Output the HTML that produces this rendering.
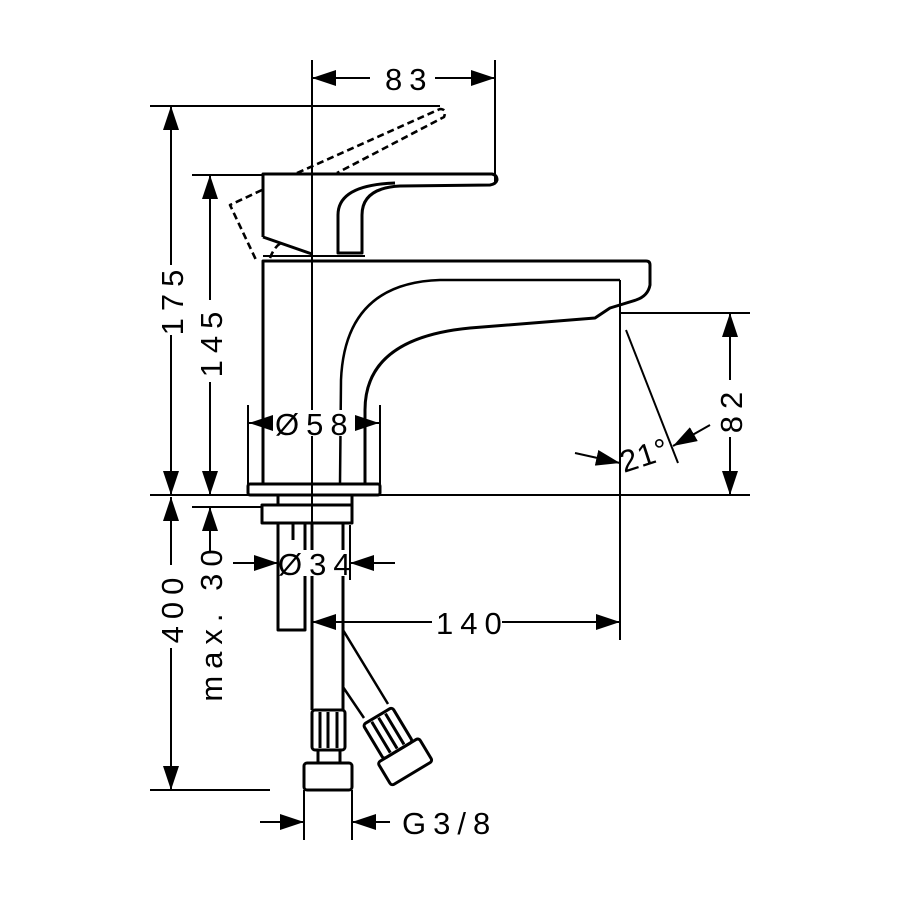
<!DOCTYPE html>
<html><head><meta charset="utf-8"><style>
html,body{margin:0;padding:0;background:#fff}
svg{display:block}
text{font-family:"Liberation Sans",sans-serif;font-size:31px;fill:#000;letter-spacing:7px}
</style></head><body>
<svg width="900" height="900" viewBox="0 0 900 900" xmlns="http://www.w3.org/2000/svg">
<defs>
<marker id="a" viewBox="0 0 24 16" refX="24" refY="8" markerWidth="24" markerHeight="16" markerUnits="userSpaceOnUse" orient="auto"><path d="M0,0 L24,8 L0,16 Z" fill="#000"/></marker>
</defs>
<g stroke="#000" fill="none" stroke-width="2">
<line x1="312" y1="60" x2="312" y2="640"/>
<line x1="495" y1="60" x2="495" y2="182"/>
<line x1="370" y1="78" x2="312" y2="78" marker-end="url(#a)"/>
<line x1="435" y1="78" x2="495" y2="78" marker-end="url(#a)"/>
<line x1="150" y1="106" x2="440" y2="106"/>
<line x1="171" y1="265" x2="171" y2="106" marker-end="url(#a)"/>
<line x1="171" y1="335" x2="171" y2="495" marker-end="url(#a)"/>
<line x1="192" y1="175" x2="262" y2="175"/>
<line x1="210" y1="300" x2="210" y2="175" marker-end="url(#a)"/>
<line x1="210" y1="382" x2="210" y2="495" marker-end="url(#a)"/>
<line x1="150" y1="495" x2="750" y2="495"/>
<line x1="171" y1="565" x2="171" y2="497" marker-end="url(#a)"/>
<line x1="171" y1="648" x2="171" y2="790" marker-end="url(#a)"/>
<line x1="150" y1="790" x2="270" y2="790"/>
<line x1="192" y1="507" x2="262" y2="507"/>
<line x1="210" y1="553" x2="210" y2="507" marker-end="url(#a)"/>
<line x1="248" y1="405" x2="248" y2="484"/>
<line x1="380" y1="405" x2="380" y2="484"/>
<line x1="270" y1="423" x2="249" y2="423" marker-end="url(#a)"/>
<line x1="358" y1="423" x2="379" y2="423" marker-end="url(#a)"/>
<line x1="233" y1="563" x2="278" y2="563" marker-end="url(#a)"/>
<line x1="395" y1="563" x2="350" y2="563" marker-end="url(#a)"/>
<line x1="278" y1="525" x2="278" y2="580"/>
<line x1="350" y1="525" x2="350" y2="580"/>
<line x1="620" y1="280" x2="620" y2="640"/>
<line x1="432" y1="622" x2="312" y2="622" marker-end="url(#a)"/>
<line x1="502" y1="622" x2="620" y2="622" marker-end="url(#a)"/>
<line x1="620" y1="313" x2="750" y2="313"/>
<line x1="730" y1="380" x2="730" y2="313" marker-end="url(#a)"/>
<line x1="730" y1="437" x2="730" y2="495" marker-end="url(#a)"/>
<line x1="626" y1="330" x2="678" y2="463"/>
<line x1="575" y1="453" x2="620" y2="463" marker-end="url(#a)"/>
<line x1="710" y1="425" x2="673" y2="446" marker-end="url(#a)"/>
<line x1="304" y1="790" x2="304" y2="840"/>
<line x1="352" y1="790" x2="352" y2="840"/>
<line x1="260" y1="822" x2="304" y2="822" marker-end="url(#a)"/>
<line x1="390" y1="822" x2="352" y2="822" marker-end="url(#a)"/>
</g>
<g stroke="#000" fill="none" stroke-width="3" stroke-linejoin="round">
<path d="M263,484 L263,261 L646,261 Q650,261 650,265 L650,285 Q648,296 636,300 L610,308 L595,318 L470,328 Q365,338 365,410 L365,484"/>
<path d="M620,280 L440,280 Q345,283 341,380 L340,484" stroke-width="2.5"/>
<rect x="248" y="484" width="132" height="11" rx="2"/>
<path d="M263,237 L263,174 L492,174 Q497,175 497,180 Q496,184 490,185 L400,186 Q362,188 362,215 L362,253 L338,253 L338,215 Q338,185 395,183"/>
<path d="M263,237 L312,254"/>
<path d="M263,256 L365,256" stroke-width="2"/>
<path d="M297,173 L440,109 Q447,109 444,117 L337,173 M262,190 L230,205 L257,262 M270,258 Q275,245 283,242" stroke-dasharray="7,4" stroke-width="2.6"/>
<rect x="278" y="495" width="74" height="10"/>
<rect x="262" y="505" width="90" height="18"/>
<path d="M278,523 L278,630 L305,630 L305,523"/>
<path d="M293,523 L293,540 M305,523 L305,540"/>
<path d="M312,523 L312,710 M343,523 L343,710"/>
<rect x="312" y="710" width="33" height="40" rx="3"/>
<path d="M320,712 L320,748 M328,712 L328,748 M337,712 L337,748"/>
<path d="M318,750 L318,763 M340,750 L340,763"/>
<rect x="304" y="763" width="48" height="27" rx="3"/>
<path d="M343,630 L388,704 M343,687 L364,718" stroke-width="2.5"/>
<g transform="translate(392,740) rotate(-31)">
<rect x="-17" y="-28" width="34" height="40" rx="3"/>
<path d="M-8,-26 L-8,10 M0,-26 L0,10 M8,-26 L8,10"/>
<rect x="-24" y="12" width="48" height="27" rx="3"/>
</g>
</g>
<g fill="#fff">
<rect x="275" y="410" width="72" height="26"/>
<rect x="280" y="550" width="66" height="26"/>
</g>
<text x="385" y="90">83</text>
<text x="275" y="435">Ø58</text>
<text x="278" y="575">Ø34</text>
<text x="436" y="634">140</text>
<text x="402" y="834">G3/8</text>
<text transform="translate(183,299) rotate(-90)" text-anchor="middle">175</text>
<text transform="translate(222,341) rotate(-90)" text-anchor="middle">145</text>
<text transform="translate(183,607) rotate(-90)" text-anchor="middle">400</text>
<text transform="translate(222,622) rotate(-90)" text-anchor="middle">max. 30</text>
<text transform="translate(742,409) rotate(-90)" text-anchor="middle">82</text>
<text transform="translate(624,473) rotate(-18)" style="letter-spacing:1px">21°</text>
</svg>
</body></html>
